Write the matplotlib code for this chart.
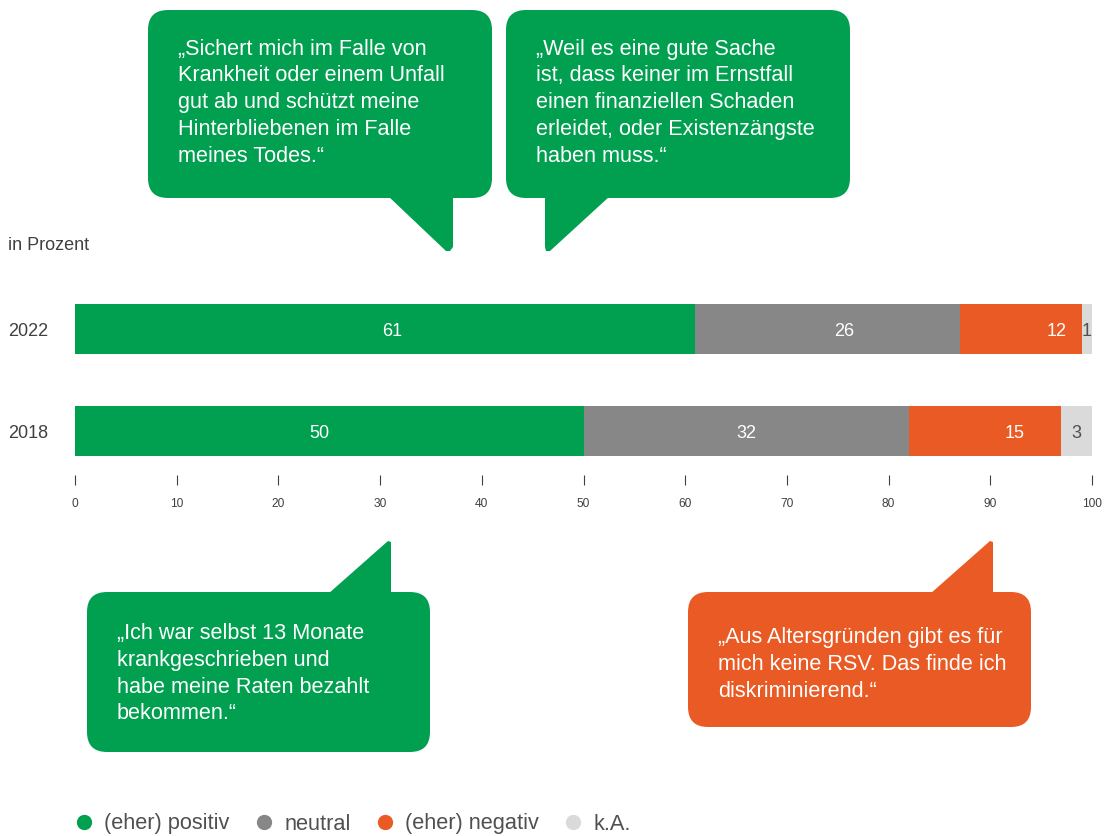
import matplotlib
matplotlib.use("Agg")
import matplotlib.pyplot as plt
from matplotlib.patches import FancyBboxPatch, Polygon
from matplotlib.lines import Line2D

plt.rcParams['font.family'] = ['Liberation Sans', 'DejaVu Sans']

# ---- data ----
years = ['2022', '2018']
categories = ['(eher) positiv', 'neutral', '(eher) negativ', 'k.A.']
values_2022 = [61, 26, 12, 1]
values_2018 = [50, 32, 15, 3]
colors = ['#00A050', '#878787', '#E95A24', '#DADADA']
xticks = [0, 10, 20, 30, 40, 50, 60, 70, 80, 90, 100]
unit_label = 'in Prozent'

quote1 = '„Sichert mich im Falle von\nKrankheit oder einem Unfall\ngut ab und schützt meine\nHinterbliebenen im Falle\nmeines Todes.“'
quote2 = '„Weil es eine gute Sache\nist, dass keiner im Ernstfall\neinen finanziellen Schaden\nerleidet, oder Existenzängste\nhaben muss.“'
quote3 = '„Ich war selbst 13 Monate\nkrankgeschrieben und\nhabe meine Raten bezahlt\nbekommen.“'
quote4 = '„Aus Altersgründen gibt es für\nmich keine RSV. Das finde ich\ndiskriminierend.“'

# label placement tweaks (layout, in axis units) as seen in the reference
label_shift = [[0.7, 1.6, 3.5, 0.0], [-1.0, 0.0, 2.9, 0.0]]

W, H = 1104, 836
TXT = '#404040'
fig = plt.figure(figsize=(W / 100, H / 100), dpi=100)

# ---- bar chart ----
ax = fig.add_axes([75 / W, 1 - 475 / H, (1092 - 75) / W, (475 - 280) / H])
series = [values_2022, values_2018]
for i, vals in enumerate(series):
    left = 0
    for j, v in enumerate(vals):
        ax.barh(i, v, left=left, height=0.49, color=colors[j], linewidth=0)
        tc = 'white' if v >= 5 else '#505050'
        ax.text(left + v / 2 + label_shift[i][j], i + 0.02, str(v),
                ha='center', va='center', color=tc, fontsize=13)
        left += v
ax.set_xlim(0, 100)
ax.set_ylim(1.43, -0.48)
ax.set_xticks(xticks)
ax.set_xticklabels([str(t) for t in xticks], fontsize=8.6, color=TXT)
ax.tick_params(axis='x', length=7, width=0.8, color='#404040', pad=9.5)
ax.set_yticks(range(len(years)))
ax.set_yticklabels(years, fontsize=13, color=TXT)
ax.tick_params(axis='y', length=0, pad=19.5)
for s in ax.spines.values():
    s.set_visible(False)

# ---- overlay for callouts ----
oax = fig.add_axes([0, 0, 1, 1])
oax.set_xlim(0, W)
oax.set_ylim(H, 0)
oax.axis('off')
oax.patch.set_alpha(0)

def callout(x0, y0, w, h, tail, color, text, tx, ty):
    oax.add_patch(FancyBboxPatch((x0, y0), w, h,
                                 boxstyle='round,pad=0,rounding_size=20',
                                 facecolor=color, edgecolor='none'))
    oax.add_patch(Polygon(tail, closed=True, facecolor=color, edgecolor='none'))
    oax.text(tx, ty, text, ha='left', va='top', color='white',
             fontsize=15.6, linespacing=1.36)

G, O = colors[0], colors[2]
callout(148, 10, 344, 188, [(388, 196), (453, 196), (453, 247), (450, 251), (446, 251)], G, quote1, 178, 38.5)
callout(506, 10, 344, 188, [(545, 196), (610, 196), (550, 251), (546, 251), (545, 247)], G, quote2, 536, 38.5)
callout(87, 592, 343, 160, [(328, 594), (388, 541), (391, 542), (391, 594)], G, quote3, 117, 623)
callout(688, 592, 343, 135, [(930, 594), (990, 541), (993, 542), (993, 594)], O, quote4, 718, 627)

fig.text(8 / W, 1 - 246 / H, unit_label, fontsize=13, color=TXT, va='center', ha='left')

# ---- legend ----
handles = [Line2D([], [], marker='o', linestyle='none', markersize=11,
                  markerfacecolor=c, markeredgecolor='none') for c in colors]
leg = fig.legend(handles, categories, loc='center left', ncol=4,
                 bbox_to_anchor=(75 / W, 1 - 824 / H), frameon=False,
                 fontsize=15.7, handlelength=0.8, handletextpad=0.55,
                 columnspacing=1.15, borderpad=0, borderaxespad=0)
for t in leg.get_texts():
    t.set_color('#505050')

fig.savefig('out.png', dpi=100)
